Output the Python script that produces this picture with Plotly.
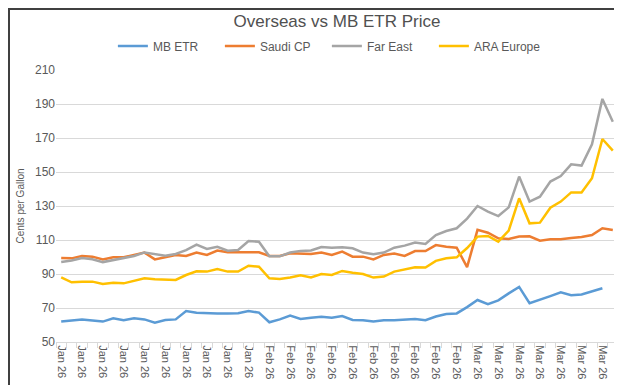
import plotly.graph_objects as go

categories = list(range(54))
tick_positions = list(range(0, 53, 2))
tick_labels = ["Jan 26"] * 10 + ["Feb 26"] * 10 + ["Mar 26"] * 7

mb_etr = [62, 62.6, 63.3, 62.6, 62, 64, 62.8, 64, 63.3, 61.4,
          62.9, 63.3, 68.2, 67.2, 66.9, 66.7, 66.8, 66.9, 68.2, 67.3,
          61.6, 63.3, 65.5, 63.5, 64.3, 64.9, 64.3, 65.3, 63, 62.8,
          62, 62.8, 62.8, 63.3, 63.5, 62.8, 65, 66.5, 66.8, 70.5,
          74.7, 72.2, 74.5, 78.6, 82.4, 72.8, 74.7, 77, 79.2, 77.5,
          77.9, 79.6, 81.6, None]
saudi_cp = [99.4, 99.2, 100.6, 100.2, 98.6, 99.8, 99.8, 101.2, 102.6, 98.6,
            99.8, 101.2, 100.6, 102.6, 101.2, 103.8, 102.8, 102.8, 103.2, 102.8,
            100.6, 100.6, 102.2, 101.8, 101.8, 102.6, 101.2, 103.2, 100.2, 100.2,
            98.6, 101.2, 102, 100.6, 103.5, 103.5, 107, 106, 105.5, 94,
            116, 114.3, 111, 110.6, 112, 112.2, 109.6, 110.4, 110.4, 111.2,
            111.8, 112.9, 116.9, 115.9]
far_east = [97, 97.9, 99.4, 98.7, 97, 98.2, 99.2, 100.6, 102.7, 101.6,
            100.8, 101.8, 104, 107.3, 104.7, 106, 103.7, 104.1, 109.4, 109,
            100.4, 100.4, 102.6, 103.6, 103.8, 105.9, 105.5, 105.7, 105.1, 102.6,
            101.6, 102.6, 105.5, 106.7, 108.5, 107.7, 112.9, 115.3, 116.9, 122.6,
            130, 126.7, 124.1, 129.2, 147.3, 132.6, 135.5, 144.4, 147.6, 154.5,
            153.8, 166.3, 193, 179.6]
ara_europe = [88, 85.1, 85.5, 85.5, 84.1, 84.9, 84.5, 85.9, 87.5, 86.9,
              86.9, 86.5, 89.4, 91.6, 91.4, 92.9, 91.4, 91.4, 94.9, 94.3,
              87.5, 87.1, 88, 89.2, 88, 90, 89.4, 91.8, 90.8, 90,
              87.9, 88.5, 91.4, 92.8, 94, 93.8, 97.7, 99.2, 99.8, 105.3,
              112, 112.4, 109, 115.5, 134.5, 119.8, 120.2, 129, 132.6, 138,
              138, 146.3, 169.4, 162.6]

series = [("MB ETR", mb_etr, "#5B9BD5"),
          ("Saudi CP", saudi_cp, "#ED7D31"),
          ("Far East", far_east, "#A5A5A5"),
          ("ARA Europe", ara_europe, "#FFC000")]

fig = go.Figure()
for name, vals, color in series:
    fig.add_trace(go.Scatter(x=categories, y=vals, mode="lines", name=name,
                             line=dict(color=color, width=2.5),
                             connectgaps=False))

W, H = 622, 385
L, R, T, B = 48, 12, 62, 51
pw, ph = W - L - R, H - T - B

def px(xp):
    return (xp - L) / pw

def py(yp):
    return (H - B - yp) / ph

fig.update_layout(
    width=W, height=H,
    margin=dict(l=L, r=R, t=T, b=B),
    paper_bgcolor="white", plot_bgcolor="white",
    font=dict(family="Arial, Liberation Sans, sans-serif", color="#595959"),
    title=dict(text="Overseas vs MB ETR Price", x=0.5, xref="paper", xanchor="center",
               y=1 - 13 / H, yanchor="middle", font=dict(size=17, color="#505050")),
    legend=dict(orientation="h", x=0.482, xanchor="center", y=1 + 24 / ph, yanchor="middle",
                font=dict(size=12, color="#595959"), itemwidth=30, entrywidth=62,
                bgcolor="rgba(0,0,0,0)"),
    xaxis=dict(range=[-0.5, 53.5], tickmode="array", tickvals=tick_positions,
               ticktext=tick_labels, tickangle=90, tickfont=dict(size=11, color="#595959"),
               showgrid=False, showline=True, linecolor="#D9D9D9", linewidth=1,
               ticks="", zeroline=False,
               minor=dict(tick0=-0.5, dtick=1, ticks="outside", ticklen=5,
                          tickcolor="#D9D9D9", showgrid=False)),
    yaxis=dict(range=[50, 210], dtick=20, tick0=50, showgrid=True, gridcolor="#D9D9D9",
               gridwidth=1.3, zeroline=False, showline=False, ticks="",
               tickfont=dict(size=12, color="#595959"),
               title=dict(text="Cents per Gallon", font=dict(size=10, color="#595959"),
                          standoff=8)),
    shapes=[dict(type="rect", xref="paper", yref="paper",
                 x0=px(1), x1=px(620), y0=py(382), y1=py(1),
                 line=dict(color="#404040", width=2), layer="above")],
)

fig.write_html("out.html")
